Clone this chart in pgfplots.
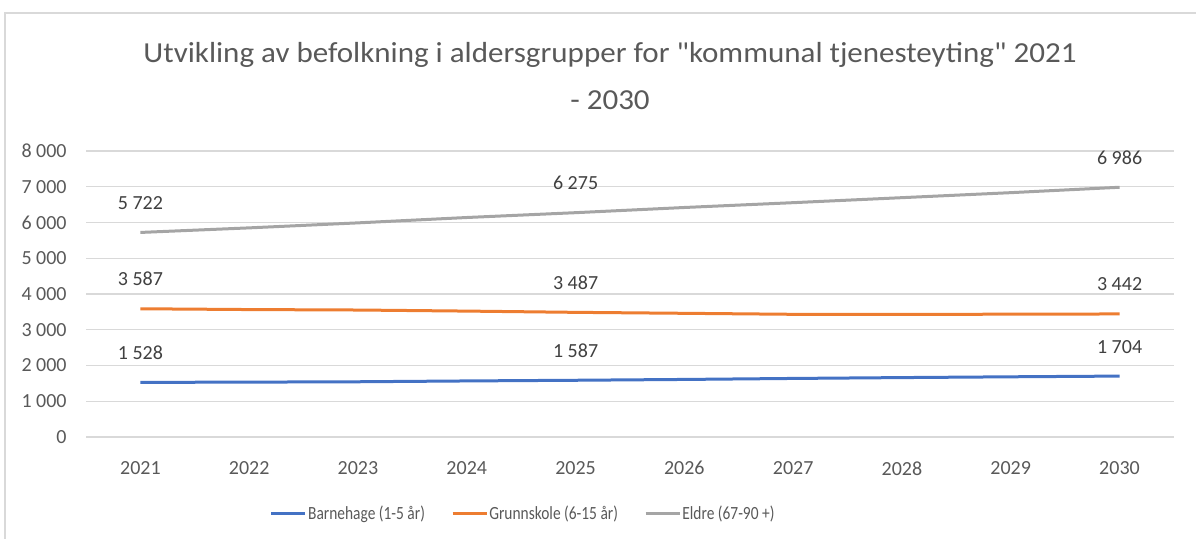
\documentclass[border=0pt]{standalone}
\usepackage{pgfplots}
\pgfplotsset{compat=1.18}
\usepackage{fontspec}
\setmainfont{Carlito}
\newfontfamily\titlefont[FakeStretch=1.07]{Carlito}
\newfontfamily\legfont[FakeStretch=0.83]{Carlito}
\definecolor{cblue}{HTML}{4472C4}
\definecolor{corange}{HTML}{ED7D31}
\definecolor{cgray}{HTML}{A5A5A5}
\definecolor{gridc}{HTML}{D9D9D9}
\definecolor{tickc}{HTML}{595959}
\definecolor{labc}{HTML}{404040}
\begin{document}
\begin{tikzpicture}
\path[use as bounding box] (0,0) rectangle (598pt,-269.5pt);
\draw[gridc, line width=1pt] (2.5pt,-275pt) -- (2.5pt,-6.5pt) -- (605pt,-6.5pt);
\node[text=tickc, font=\titlefont\fontsize{14.5}{16}\selectfont] at (305pt,-27.5pt) {Utvikling av befolkning i aldersgrupper for \symbol{34}kommunal tjenesteyting\symbol{34} 2021};
\node[text=tickc, font=\titlefont\fontsize{14.5}{16}\selectfont] at (305pt,-50pt) {- 2030};
\begin{axis}[
  at={(43pt,-218.5pt)}, anchor=south west,
  scale only axis, width=544pt, height=143pt,
  xmin=2020.5, xmax=2030.5, ymin=0, ymax=8000,
  xtick={2021,...,2030}, ytick={0,1000,...,8000},
  /pgf/number format/assume math mode=true,
  major tick length=0pt,
  axis line style={draw=none},
  ymajorgrids, grid style={gridc, line width=0.6pt},
  tick label style={font=\fontsize{10}{12}\selectfont, text=tickc, inner sep=0pt},
  yticklabel style={anchor=east, xshift=-9.5pt, /pgf/number format/1000 sep={\ }},
  xticklabel style={anchor=north, yshift=-12pt, /pgf/number format/1000 sep={}},
  legend style={draw=none, fill=none, at={(0.4015,-0.269)}, anchor=center,
    font=\legfont\fontsize{9.3}{11}\selectfont, text=tickc, legend columns=3,
    nodes={inner sep=0.6pt},
    /tikz/every even column/.append style={column sep=12.5pt}, inner sep=0pt},
  legend cell align=left,
  legend image code/.code={\draw[#1, line width=1.5pt] (0pt,0pt) -- (17pt,0pt);},
  nodes near coords style={font=\fontsize{10}{12}\selectfont, text=labc, anchor=base, inner sep=0pt, yshift=11.5pt},
]
\addplot[cblue, line width=1.5pt] coordinates {(2021,1528) (2022,1535) (2023,1545) (2024,1568) (2025,1587) (2026,1610) (2027,1638) (2028,1662) (2029,1684) (2030,1704)};
\addlegendentry{Barnehage (1-5 år)}
\addplot[corange, line width=1.5pt] coordinates {(2021,3587) (2022,3565) (2023,3552) (2024,3522) (2025,3487) (2026,3460) (2027,3432) (2028,3430) (2029,3435) (2030,3442)};
\addlegendentry{Grunnskole (6-15 år)}
\addplot[cgray, line width=1.5pt] coordinates {(2021,5722) (2022,5850) (2023,5990) (2024,6140) (2025,6275) (2026,6420) (2027,6555) (2028,6695) (2029,6835) (2030,6986)};
\addlegendentry{Eldre (67-90 +)}
\addplot[draw=none, forget plot, nodes near coords, point meta=explicit symbolic] coordinates {(2021,1528) [1 528] (2025,1587) [1 587] (2030,1704) [1 704]};
\addplot[draw=none, forget plot, nodes near coords, point meta=explicit symbolic] coordinates {(2021,3587) [3 587] (2025,3487) [3 487] (2030,3442) [3 442]};
\addplot[draw=none, forget plot, nodes near coords, point meta=explicit symbolic] coordinates {(2021,5722) [5 722] (2025,6275) [6 275] (2030,6986) [6 986]};
\end{axis}
\end{tikzpicture}
\end{document}
